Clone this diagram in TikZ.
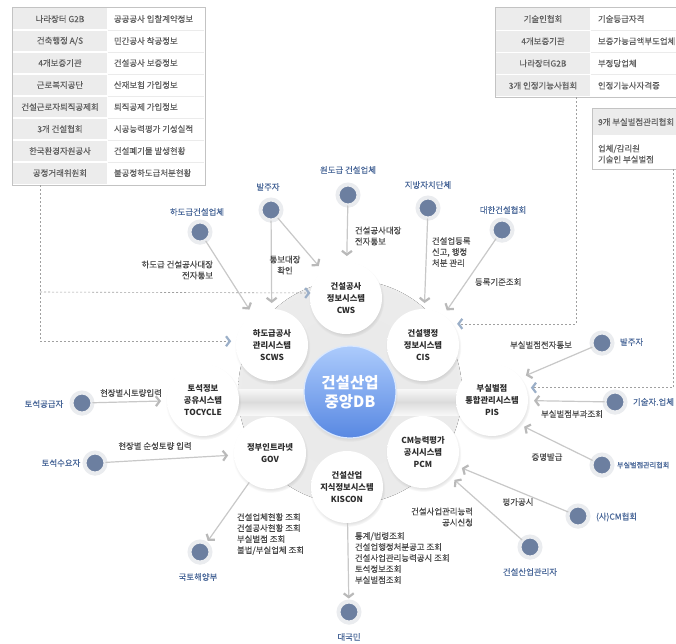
\documentclass[tikz,border=0pt]{standalone}
\usepackage{fontspec}
\setmainfont{Noto Sans CJK KR}
\newfontfamily\lblfont{Noto Sans CJK KR}[FakeBold=0.25]
\usetikzlibrary{arrows.meta,shadows,calc}
\definecolor{dotc}{RGB}{108,127,160}
\definecolor{halo}{RGB}{234,236,239}
\definecolor{plblc}{RGB}{72,102,152}
\definecolor{ctxt}{RGB}{72,72,72}
\definecolor{cirtxt}{RGB}{45,45,45}
\definecolor{tbltxt}{RGB}{95,95,95}
\definecolor{tblgray}{RGB}{236,236,236}
\definecolor{tblline}{RGB}{195,195,195}
\definecolor{connc}{RGB}{200,200,200}
\definecolor{chevc}{RGB}{185,185,185}
\definecolor{dashc}{RGB}{160,160,160}
\definecolor{dchev}{RGB}{155,175,200}
\definecolor{dbtop}{RGB}{172,203,252}
\definecolor{dbbot}{RGB}{88,136,226}
\pgfdeclareradialshading{sysshade}{\pgfpointorigin}{color(0bp)=(white);color(33bp)=(white);color(50bp)=(black!17)}
\pgfdeclareradialshading{bgshade}{\pgfpointorigin}{color(0bp)=(black!9);color(36bp)=(black!7);color(50bp)=(white)}
\begin{document}
\begin{tikzpicture}[x=1pt,y=-1pt,
  every node/.style={inner sep=0pt,outer sep=0pt},
  f/.style={font=\fontsize{8.4}{11}\lblfont},
  sys/.style={circle, minimum size=72pt, shading=sysshade, circular drop shadow={shadow xshift=0.5pt,shadow yshift=-2pt,opacity=0.3,shadow scale=1.05}, font=\fontsize{8.3}{12}\selectfont\bfseries, text=cirtxt, align=center},
  pdot/.style={circle, minimum size=21pt, fill=dotc, draw=halo, line width=4pt, circular drop shadow={shadow xshift=0pt,shadow yshift=-1pt,opacity=0.25,shadow scale=1.1}},
  plbl/.style={f, text=plblc},
  clbl/.style={f, text=ctxt},
  tlbl/.style={f, text=tbltxt},
  conn/.style={draw=connc, line width=1.2pt, shorten >=6pt, -{Straight Barb[length=3.8pt,width=10pt,line width=2.2pt,color=chevc]}},
  dsh/.style={draw=dashc, line width=0.6pt, dash pattern=on 2pt off 2pt, shorten >=5pt, -{Straight Barb[length=3.8pt,width=10pt,line width=2.2pt,color=dchev]}},
]
\useasboundingbox (0,0) rectangle (676,643);
\clip (0,0) rectangle (676,643);
\fill[white] (0,0) rectangle (676,643);

% ---------- top-left table ----------
\draw[tblline, line width=0.8pt, fill=white] (12,7) rectangle (205,185);
\fill[tblgray] (13,8) rectangle (107,184);
\foreach \i in {1,...,7}{
  \draw[white, line width=1.2pt] (13,{8+22.0*\i}) -- (107,{8+22.0*\i});
  \draw[black!8, line width=0.6pt] (108,{8+22.0*\i}) -- (204,{8+22.0*\i});
}
\foreach \i/\a/\b in {0/{나라장터 G2B}/{공공공사 입찰계약정보},
                      1/{건축행정 A/S}/{민간공사 착공정보},
                      2/{4개보증기관}/{건설공사 보증정보},
                      3/{근로복지공단}/{산재보험 가입정보},
                      4/{건설근로자퇴직공제회}/{퇴직공제 가입정보},
                      5/{3개 건설협회}/{시공능력평가 기성실적},
                      6/{한국환경자원공사}/{건설폐기물 발생현황},
                      7/{공정거래위원회}/{불공정하도급처분현황}}{
  \node[tlbl] (tla\i) at (60,{19+22.0*\i}) {\a};
  \node[tlbl, anchor=west] (tlb\i) at (114,{19+22.0*\i}) {\b};
}

% ---------- top-right tables ----------
\draw[tblline, line width=0.8pt, fill=white] (495,7) rectangle (690,97);
\fill[tblgray] (496,8) rectangle (590,96);
\foreach \i in {1,...,3}{
  \draw[white, line width=1.2pt] (496,{8+22.2*\i}) -- (590,{8+22.2*\i});
  \draw[black!8, line width=0.6pt] (591,{8+22.2*\i}) -- (690,{8+22.2*\i});
}
\foreach \i/\a/\b in {0/{기술인협회}/{기술등급자격},
                      1/{4개보증기관}/{보증가능금액부도업체},
                      2/{나라장터G2B}/{부정당업체},
                      3/{3개 인정기능사협회}/{인정기능사자격증}}{
  \node[tlbl] (tra\i) at (543,{19+22.2*\i}) {\a};
  \node[tlbl, anchor=west] (trb\i) at (598,{19+22.2*\i}) {\b};
}
\draw[tblline, line width=0.8pt, fill=white] (592,108) rectangle (690,169);
\fill[tblgray] (593,109) rectangle (690,135);
\node[tlbl, anchor=west] (nine) at (598,122) {9개 부실벌점관리협회};
\node[tlbl, anchor=west, align=left] (ninebody) at (598,154) {업체/감리원\\기술인 부실벌점};

% ---------- background ----------
\coordinate (dbc) at (350,392);
\fill[shading=bgshade] (dbc) circle (112);
\shade[top color=black!3, bottom color=black!3, middle color=black!14] (225,389) rectangle (470,415);

% ---------- system circles ----------
\node[sys] (cws) at (346,298) {건설공사\\정보시스템\\CWS};
\node[sys] (scws) at (272,345) {하도급공사\\관리시스템\\SCWS};
\node[sys] (cis) at (423,345) {건설행정\\정보시스템\\CIS};
\node[sys] (toc) at (203,400) {토석정보\\공유시스템\\TOCYCLE};
\node[sys] (pis) at (492,400) {부실벌점\\통합관리시스템\\PIS};
\node[sys] (gov) at (270,453) {정부인트라넷\\GOV};
\node[sys] (pcm) at (423,452) {CM능력평가\\공시시스템\\PCM};
\node[sys] (kis) at (347,487) {건설산업\\지식정보시스템\\KISCON};
\node[circle, minimum size=92pt, top color=dbtop, bottom color=dbbot, draw=white!55!dbtop, line width=1.2pt,
      circular drop shadow={shadow xshift=0pt,shadow yshift=-2pt,opacity=0.3,shadow scale=1.04},
      text=white, font=\fontsize{15.5}{19}\selectfont\bfseries, align=center] (db) at (dbc) {건설산업\\중앙DB};

% ---------- peripheral nodes ----------
\node[pdot] (hd) at (200,232) {};  \node[plbl] (hdl) at (197,212) {하도급건설업체};
\node[pdot] (bj) at (271,210) {};  \node[plbl] (bjl) at (268,187) {발주자};
\node[pdot] (wd) at (348,195) {};  \node[plbl] (wdl) at (348,170) {원도급 건설업체};
\node[pdot] (jb) at (428,208) {};  \node[plbl] (jbl) at (428,185) {지방자치단체};
\node[pdot] (dh) at (502,230) {};  \node[plbl] (dhl) at (503,210) {대한건설협회};
\node[pdot] (bjr) at (602,343) {}; \node[plbl, anchor=west] (bjrl) at (620,342) {발주자};
\node[pdot] (gs) at (615,402) {};  \node[plbl, anchor=west] (gsl) at (633,402) {기술자.업체};
\node[pdot] (bm) at (602,465) {};  \node[plbl, anchor=west, font=\fontsize{7.1}{11}\lblfont] (bml) at (617,465) {부실벌점관리협회};
\node[pdot] (cm) at (578,516) {};  \node[plbl, anchor=west] (cml) at (596,517) {(사)CM협회};
\node[pdot] (gk) at (530,547) {};  \node[plbl] (gkl) at (530,572) {건설산업관리자};
\node[pdot] (dk) at (349,612) {};  \node[plbl] (dkl) at (349,637) {대국민};
\node[pdot] (kt) at (200,552) {};  \node[plbl] (ktl) at (198,577) {국토해양부};
\node[pdot] (ts) at (95,463) {};   \node[plbl] (tsl) at (61,463) {토석수요자};
\node[pdot] (tg) at (82,403) {};   \node[plbl] (tgl) at (44,404) {토석공급자};

% ---------- connectors ----------
\draw[conn] (hd) -- (scws);
\draw[conn] (bj) -- (scws);
\draw[conn] (bj) -- (cws);
\draw[conn] (wd) -- (cws);
\draw[conn] (jb) -- (cis);
\draw[conn] (dh) -- (cis);
\draw[conn] (bjr) -- (pis.38);
\draw[conn] (gs) -- (pis);
\draw[conn] (bm) -- (pis.-42);
\draw[conn] (cm) -- (pcm);
\draw[conn] (gk) -- (pcm);
\draw[conn, shorten >=3pt] (kis) -- (dk);
\draw[conn, shorten >=3pt] (gov) -- (kt);
\draw[conn] (tg) -- (toc);
\draw[conn] (ts) -- (gov);

% dashed feeds
\coordinate (tlbot) at (40,185);
\coordinate (tlmid) at (40,292);
\coordinate (trbot) at (576,97);
\coordinate (ninebot) at (673,169);
\draw[dsh] (tlbot) |- (scws.174);
\draw[dsh, shorten >=0pt] (tlmid) -- (cws.172);
\draw[dsh] (trbot) |- (cis.36);
\draw[dsh] (ninebot) |- (pis.20);

% ---------- connector labels ----------
\node[clbl, align=right, anchor=east] (l1) at (213,270) {하도급 건설공사대장\\전자통보};
\node[clbl, align=center] (l2) at (285,265) {통보대장\\확인};
\node[clbl, align=left, anchor=west] (l3) at (355,236) {건설공사대장\\전자통보};
\node[clbl, align=left, anchor=west] (l4) at (432,252) {건설업등록\\신고, 행정\\처분 관리};
\node[clbl, anchor=west] (l5) at (475,282) {등록기준조회};
\node[clbl] (l6) at (541,345) {부실벌점전자통보};
\node[clbl] (l7) at (572,414) {부실벌점부과조회};
\node[clbl] (l8) at (547,457) {증명발급};
\node[clbl] (l9) at (518,502) {평가공시};
\node[clbl, align=right, anchor=east] (l10) at (473,517) {건설사업관리능력\\공시신청};
\node[clbl, align=left, anchor=west] (l11) at (355,558) {통계/법령조회\\건설업행정처분공고 조회\\건설사업관리능력공시 조회\\토석정보조회\\부실벌점조회};
\node[clbl, align=left, anchor=west] (l12) at (237,534) {건설업체현황 조회\\건설공사현황 조회\\부실벌점 조회\\불법/부실업체 조회};
\node[clbl] (l13) at (131,393) {현장별시토량입력};
\node[clbl] (l14) at (155,446) {현장별 순성토량 입력};
\end{tikzpicture}
\end{document}
